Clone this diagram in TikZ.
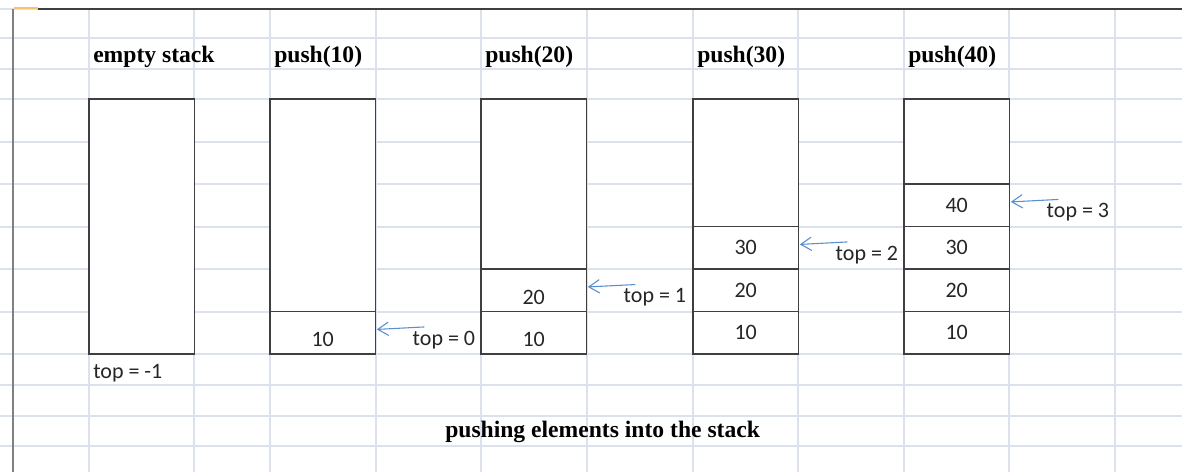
\documentclass[tikz,border=0pt]{standalone}
\usepackage{fontspec}
\setmainfont{Liberation Serif}
\newfontfamily\cellfont{Carlito}
\usetikzlibrary{arrows.meta,positioning}
\definecolor{GridBlue}{HTML}{DCE1EE}
\definecolor{FrameGray}{HTML}{3F3F3F}
\definecolor{SheetGray}{HTML}{808080}
\definecolor{PointerBlue}{HTML}{5A8ED0}
\definecolor{SelectOrange}{HTML}{F8C274}

\begin{document}
\begin{tikzpicture}[
    x=0.75pt, y=-0.75pt,
    node distance=0pt,
    slot/.style={rectangle, draw=FrameGray, line width=1.1pt, fill=white, outer sep=0pt, inner sep=0pt, minimum width=79.1pt, minimum height=31.875pt, font=\cellfont\fontsize{16.5}{18}\selectfont, text=black!85},
    lowslot/.style={slot, text height=21pt, text depth=0pt},
    emptyslot/.style={slot, minimum height=#1*31.875pt},
    heading/.style={anchor=base west, inner sep=0pt, font=\bfseries\fontsize{17.7}{20}\selectfont},
    toplabel/.style={anchor=base west, inner sep=0pt, font=\cellfont\fontsize{16.5}{18}\selectfont, text=black!85},
    pointer/.style={draw=PointerBlue, line width=0.8pt, -{Straight Barb[length=8pt,width=10pt]}}
  ]
  \useasboundingbox (0,0) rectangle (1182,472);
  \fill[white] (0,0) rectangle (1182,472);

  % sheet grid
  \foreach \gx in {89,194,270,376,481,587,693,798,904,1009,1115}
    \draw[GridBlue, line width=0.9pt] (\gx,9) -- (\gx,472);
  \foreach \gy in {9,38,69,99,142,184,227,269,312,354,385,416,446}
    \draw[GridBlue, line width=0.9pt] (0,\gy) -- (1182,\gy);
  \draw[SheetGray, line width=2pt] (13,9) -- (13,472);
  \draw[FrameGray, line width=1.5pt] (38,9) -- (1182,9);
  \draw[SelectOrange, line width=1pt] (14,8) -- (38,8);

  % empty stack
  \node[emptyslot=6, anchor=south west] (e0) at (89,354) {};
  \node[heading] (h0) at ([xshift=3pt,yshift=27.75pt]e0.north west) {empty stack};
  \node[toplabel] (tm) at ([xshift=3pt,yshift=-18pt]e0.south west) {top = -1};

  % push(10)
  \node[lowslot, anchor=south west] (a1) at (270,354) {10};
  \node[emptyslot=5, above=of a1] (a0) {};
  \node[heading] (h1) at ([xshift=3pt,yshift=27.75pt]a0.north west) {push(10)};

  % push(20)
  \node[lowslot, anchor=south west] (b1) at (481,354) {10};
  \node[lowslot, above=of b1] (b2) {20};
  \node[emptyslot=4, above=of b2] (b0) {};
  \node[heading] (h2) at ([xshift=3pt,yshift=27.75pt]b0.north west) {push(20)};

  % push(30)
  \node[slot, anchor=south west] (c1) at (693,354) {10};
  \node[slot, above=of c1] (c2) {20};
  \node[slot, above=of c2] (c3) {30};
  \node[emptyslot=3, above=of c3] (c0) {};
  \node[heading] (h3) at ([xshift=3pt,yshift=27.75pt]c0.north west) {push(30)};

  % push(40)
  \node[slot, anchor=south west] (d1) at (904,354) {10};
  \node[slot, above=of d1] (d2) {20};
  \node[slot, above=of d2] (d3) {30};
  \node[slot, above=of d3] (d4) {40};
  \node[emptyslot=2, above=of d4] (d0) {};
  \node[heading] (h4) at ([xshift=3pt,yshift=27.75pt]d0.north west) {push(40)};

  % top pointers
  \node[toplabel] (t0) at ([xshift=27.75pt,yshift=6.4pt]a1.south east) {top = 0};
  \node[toplabel] (t1) at ([xshift=27.75pt,yshift=6.4pt]b2.south east) {top = 1};
  \node[toplabel] (t2) at ([xshift=27.75pt,yshift=6.4pt]c3.south east) {top = 2};
  \node[toplabel] (t3) at ([xshift=27.75pt,yshift=6.4pt]d4.south east) {top = 3};
  \draw[pointer] ([xshift=9pt,yshift=3pt]t0.north west) -- ([xshift=1pt,yshift=2.5pt]a1.east);
  \draw[pointer] ([xshift=9pt,yshift=3pt]t1.north west) -- ([xshift=1pt,yshift=2.5pt]b2.east);
  \draw[pointer] ([xshift=9pt,yshift=3pt]t2.north west) -- ([xshift=1pt,yshift=2.5pt]c3.east);
  \draw[pointer] ([xshift=9pt,yshift=3pt]t3.north west) -- ([xshift=1pt,yshift=2.5pt]d4.east);

  \node[heading] (title) at (445,437) {pushing elements into the stack};
\end{tikzpicture}
\end{document}
